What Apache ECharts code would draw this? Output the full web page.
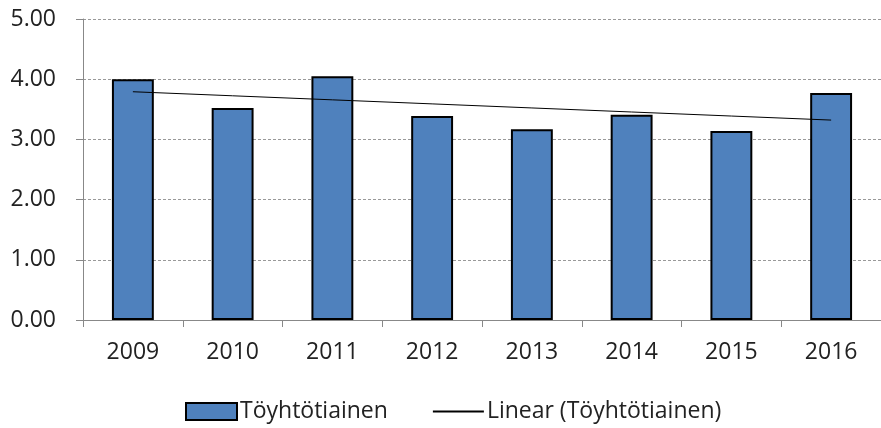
<!DOCTYPE html>
<html>
<head>
<meta charset="utf-8">
<script src="https://cdn.jsdelivr.net/npm/echarts@6/dist/echarts.min.js"></script>
<style>
  html, body { margin: 0; padding: 0; background: #fff; }
  #chart { width: 881px; height: 428px; }
</style>
</head>
<body>
<div id="chart"></div>
<script>
// Yearly values for the crested tit (Töyhtötiainen)
const years = ['2009', '2010', '2011', '2012', '2013', '2014', '2015', '2016'];
const values = [4.00, 3.52, 4.05, 3.39, 3.17, 3.41, 3.14, 3.77];
const seriesName = 'Töyhtötiainen';
const trendName = 'Linear (Töyhtötiainen)';

// Least-squares linear trend over the yearly values
function linearTrend(ys) {
  const n = ys.length;
  const mx = (n - 1) / 2;
  const my = ys.reduce((a, b) => a + b, 0) / n;
  let sxy = 0, sxx = 0;
  ys.forEach((y, i) => { sxy += (i - mx) * (y - my); sxx += (i - mx) * (i - mx); });
  const slope = sxy / sxx;
  return ys.map((_, i) => +(my + slope * (i - mx)).toFixed(4));
}
const trend = linearTrend(values);

const font = 'Open Sans, Noto Sans, sans-serif';
const chart = echarts.init(document.getElementById('chart'), null, { renderer: 'canvas' });
chart.setOption({
  animation: false,
  backgroundColor: '#ffffff',
  grid: { left: 83, right: -2, top: 19, bottom: 108, containLabel: false },
  legend: {
    top: 400,
    left: 185,
    padding: 0,
    itemGap: 44,
    itemWidth: 51,
    itemHeight: 17,
    textStyle: { fontFamily: font, fontSize: 23, color: '#222', padding: [0, 0, 0, -2] },
    data: [
      { name: seriesName, icon: 'rect' },
      { name: trendName, itemStyle: { opacity: 0 } }
    ]
  },
  xAxis: {
    type: 'category',
    data: years,
    axisLine: { show: true, lineStyle: { color: '#888', width: 1 } },
    axisTick: { show: true, length: 7, lineStyle: { color: '#888' } },
    axisLabel: { fontFamily: font, fontSize: 23, color: '#222', margin: 21 }
  },
  yAxis: {
    type: 'value',
    min: 0,
    max: 5,
    interval: 1,
    axisLine: { show: true, lineStyle: { color: '#888', width: 1 } },
    axisTick: { show: true, length: 7, lineStyle: { color: '#888' } },
    axisLabel: {
      fontFamily: font, fontSize: 23, color: '#222', margin: 27,
      formatter: v => v.toFixed(2)
    },
    splitLine: { show: true, lineStyle: { color: '#999', type: [3, 2], width: 1 } }
  },
  series: [
    {
      name: seriesName,
      type: 'bar',
      data: values,
      barWidth: '42%',
      itemStyle: { color: '#4f81bd', borderColor: '#000', borderWidth: 2 }
    },
    {
      name: trendName,
      type: 'line',
      data: trend,
      symbol: 'none',
      lineStyle: { color: '#000', width: 1 },
      itemStyle: { color: '#000' },
      z: 5
    }
  ]
});
</script>
</body>
</html>
